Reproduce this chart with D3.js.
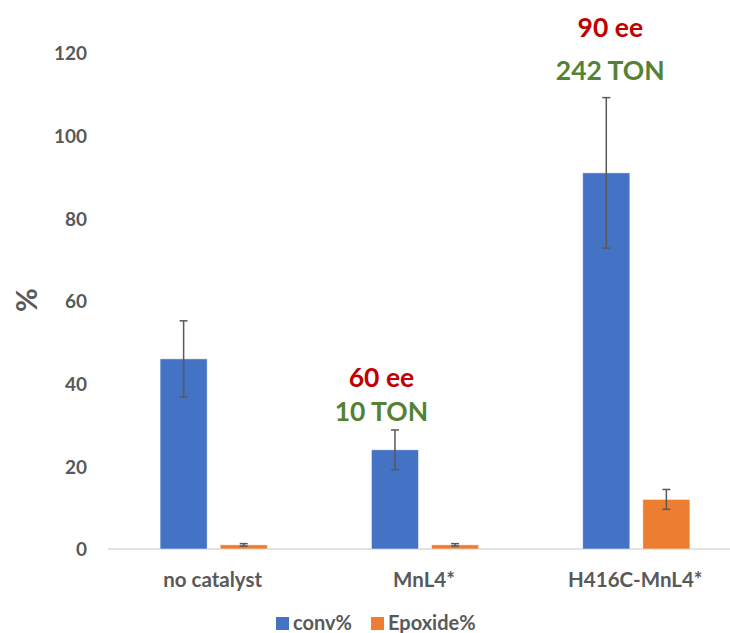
<!DOCTYPE html>
<html><head><meta charset="utf-8">
<script src="https://cdn.jsdelivr.net/npm/d3@7"></script>
<style>body{margin:0;background:#fff}svg{display:block}text{font-family:Lato,"Open Sans",sans-serif;font-weight:bold}</style>
</head><body><svg id="c" width="730" height="633"></svg>
<script>
const categories = ["no catalyst", "MnL4*", "H416C-MnL4*"];
const seriesNames = ["conv%", "Epoxide%"];
const convValues = [46, 24, 91];
const convErrors = [9.2, 4.8, 18.2];
const epoxideValues = [1, 1, 12];
const epoxideErrors = [0.3, 0.3, 2.4];
const yTicks = [0, 20, 40, 60, 80, 100, 120];
const annotationCats = ["MnL4*", "H416C-MnL4*"];
const eeLabels = ["60 ee", "90 ee"];
const tonLabels = ["10 TON", "242 TON"];
const eeLevels = [39.2, 123.8];
const tonLevels = [31, 113.5];
const colors = ["#4472C4", "#ED7D31"];

const svg = d3.select("#c");
const x0 = d3.scaleBand().domain(categories).range([108, 742]);
const x1 = d3.scaleBand().domain(seriesNames).range([0, x0.bandwidth()]).paddingInner(0.2167).paddingOuter(0.867);
const y = d3.scaleLinear().domain([0, 120]).range([549, 53]);

// y tick labels
const yAxis = d3.axisLeft(y).tickValues(yTicks).tickSize(0).tickPadding(0);
const ya = svg.append("g").attr("transform", "translate(87,0)").call(yAxis);
ya.select(".domain").remove();
ya.selectAll("text").attr("fill", "#595959").style("font-size", "19px").attr("dy", "0.36em");

// baseline
svg.append("line").attr("x1", 108).attr("x2", 730).attr("y1", y(0)).attr("y2", y(0))
  .attr("stroke", "#d9d9d9").attr("stroke-width", 1.3);

const data = categories.map((c, i) => ({cat: c, vals: [
  {s: seriesNames[0], v: convValues[i], e: convErrors[i]},
  {s: seriesNames[1], v: epoxideValues[i], e: epoxideErrors[i]}]}));

const g = svg.append("g").selectAll("g").data(data).join("g")
  .attr("transform", d => `translate(${x0(d.cat)},0)`);
g.selectAll("rect").data(d => d.vals).join("rect")
  .attr("x", d => x1(d.s)).attr("width", x1.bandwidth())
  .attr("y", d => y(d.v)).attr("height", d => y(0) - y(d.v))
  .attr("fill", (d, i) => colors[i]).attr("stroke", "#fff").attr("stroke-opacity", 0.6).attr("stroke-width", 0.8);

// error bars
const eb = g.selectAll("g.eb").data(d => d.vals).join("g").attr("class", "eb");
const cxOf = d => x1(d.s) + x1.bandwidth() / 2;
eb.append("line").attr("x1", cxOf).attr("x2", cxOf)
  .attr("y1", d => y(d.v + d.e)).attr("y2", d => y(d.v - d.e)).attr("stroke", "#595959").attr("stroke-width", 1.5);
[1, -1].forEach(sg => {
  eb.append("line").attr("x1", d => cxOf(d) - 4).attr("x2", d => cxOf(d) + 4)
    .attr("y1", d => y(d.v + sg * d.e)).attr("y2", d => y(d.v + sg * d.e))
    .attr("stroke", "#595959").attr("stroke-width", 1.5);
});

// category labels
svg.append("g").selectAll("text").data(categories).join("text")
  .attr("x", d => x0(d) + x0.bandwidth() / 2 - 1).attr("y", 587)
  .attr("text-anchor", "middle").attr("fill", "#595959").style("font-size", "20.5px").text(d => d);

// y label
svg.append("text").attr("transform", "translate(37,300) rotate(-90)").attr("text-anchor", "middle")
  .attr("fill", "#595959").style("font-size", "29px").text("%");

// annotations (centred left of the conv% bar)
const annShift = [-13.5, 4];
annotationCats.forEach((c, i) => {
  const cx = x0(c) + x1(seriesNames[0]) + x1.bandwidth() / 2 + annShift[i];
  svg.append("text").attr("x", cx).attr("y", y(eeLevels[i])).attr("text-anchor", "middle")
    .attr("fill", "#C00000").style("font-size", "26.5px").text(eeLabels[i]);
  svg.append("text").attr("x", cx).attr("y", y(tonLevels[i])).attr("text-anchor", "middle")
    .attr("fill", "#548235").style("font-size", "26.5px").text(tonLabels[i]);
});

// legend
const leg = svg.append("g");
const legX = [276, 371];
seriesNames.forEach((s, i) => {
  leg.append("rect").attr("x", legX[i]).attr("y", 617).attr("width", 13).attr("height", 13).attr("fill", colors[i]);
  leg.append("text").attr("x", legX[i] + 17).attr("y", 630).attr("fill", "#595959").style("font-size", "20px").text(s);
});
</script></body></html>
